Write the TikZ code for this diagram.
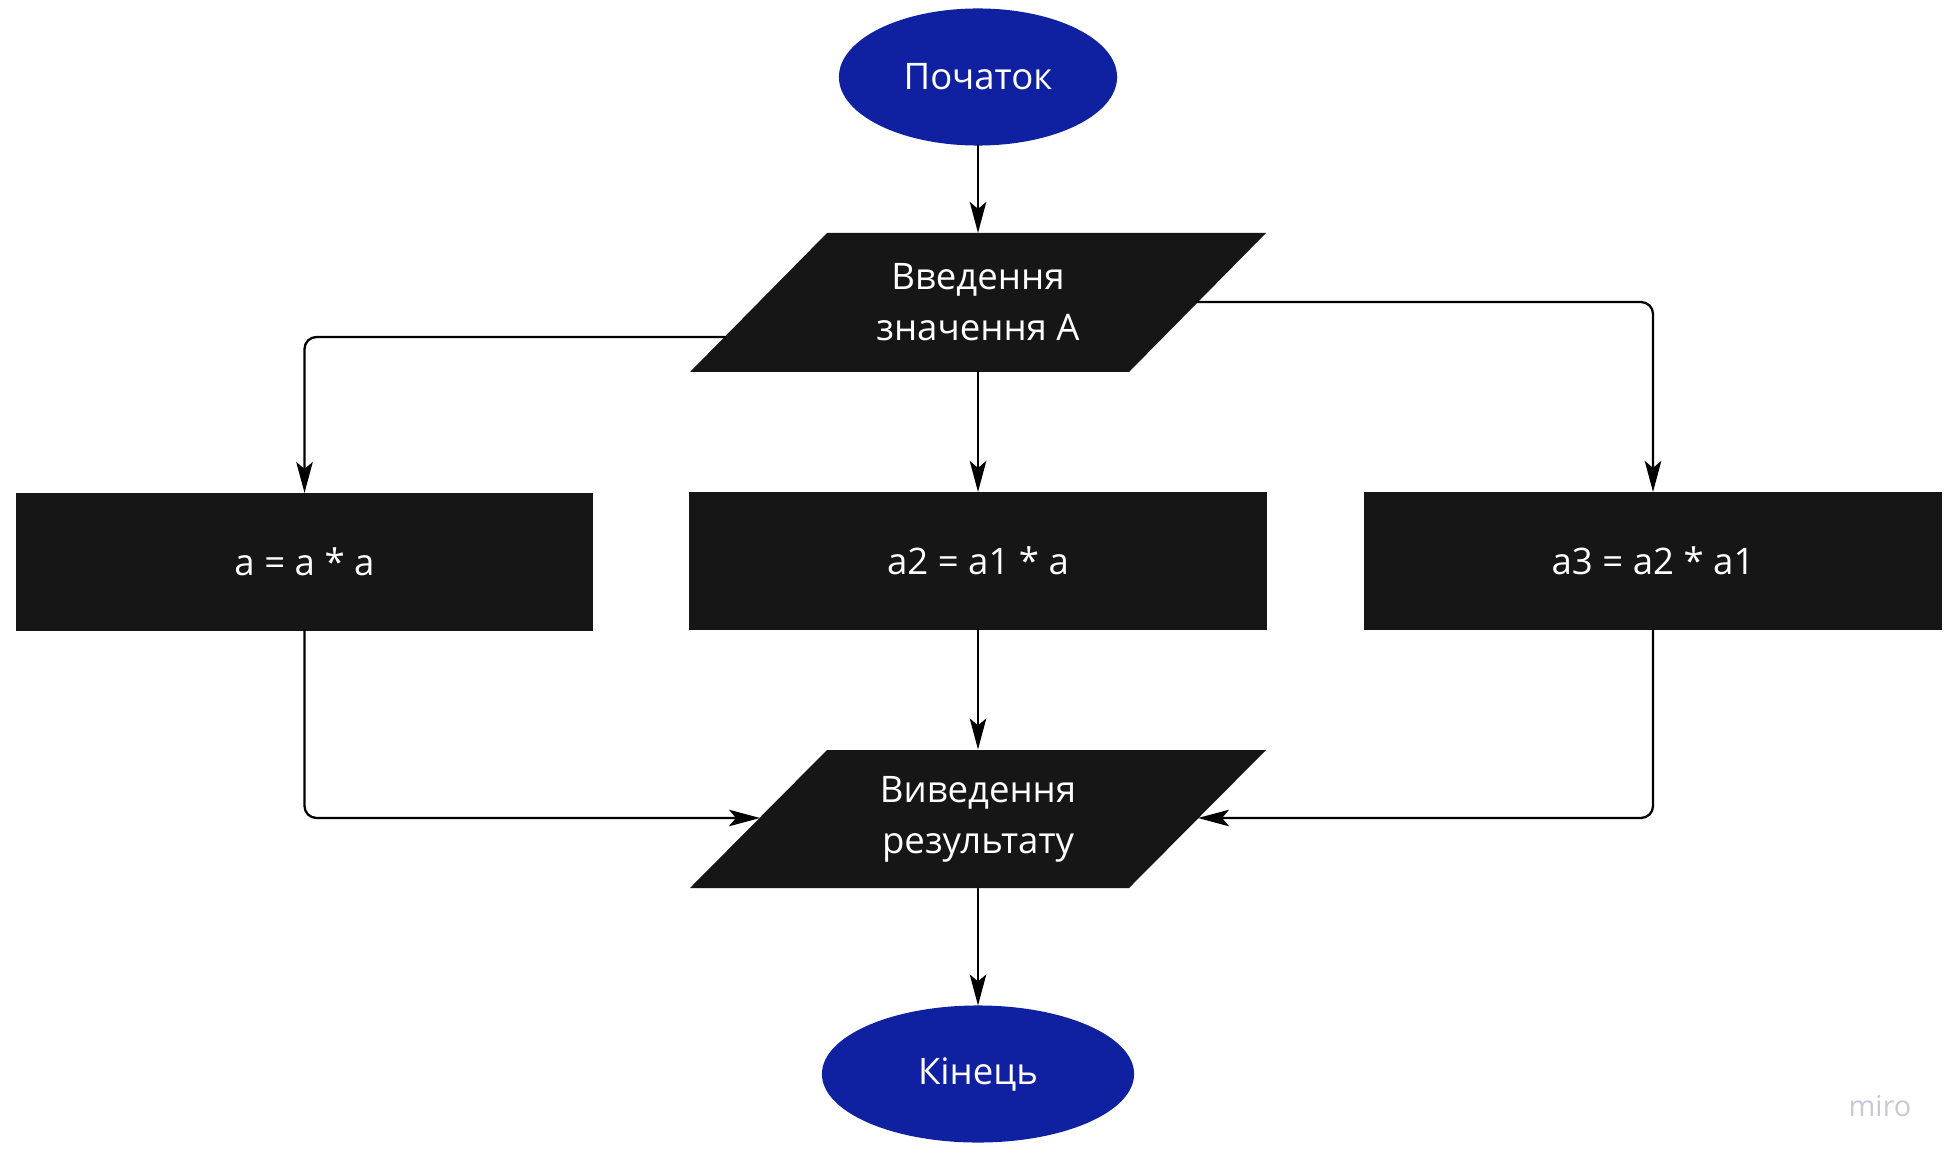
\documentclass[tikz,border=0pt]{standalone}
\usepackage{fontspec}
\setmainfont{Open Sans}
\usetikzlibrary{arrows.meta}
\usetikzlibrary{shapes}
\usetikzlibrary{backgrounds}

\definecolor{termblue}{RGB}{15,33,160}
\definecolor{blockgray}{RGB}{22,22,22}
\definecolor{miroclr}{RGB}{200,200,215}

\begin{document}
\begin{tikzpicture}[x=0.01cm, y=-0.01cm, line cap=round, line join=round,
  >={Stealth[length=0.31cm, width=0.165cm, inset=0.07cm]},
  every node/.style={font=\fontsize{10.4}{14.5}\selectfont, text=white, align=center, outer sep=0pt},
  term/.style={ellipse, fill=termblue, minimum height=1.37cm},
  iotext/.style={rectangle, minimum width=3.02cm, minimum height=1.39cm},
  calc/.style={rectangle, fill=blockgray, minimum width=5.77cm, minimum height=1.38cm},
  link/.style={draw=black, line width=0.65pt, rounded corners=0.12cm}]

\useasboundingbox (0,0) rectangle (1946,1155);

% terminals
\node[term, minimum width=2.78cm] (start) at (978,77) {Початок};
\node[term, minimum width=3.12cm] (stop) at (978,1074) {Кінець};

% input / output
\node[iotext] (input) at (978,302.5) {Введення\\значення А};
\node[iotext] (output) at (978,819) {Виведення\\результату};

\begin{scope}[on background layer]
\fill[blockgray] (827,233) -- (1266,233) -- (1129,372) -- (690,372) -- cycle;
\fill[blockgray] (827,750) -- (1266,750) -- (1129,888) -- (690,888) -- cycle;
\end{scope}

\coordinate (inL) at (725,337);
\coordinate (inR) at (1197,302);
\coordinate (outL) at (760,818);
\coordinate (outR) at (1198,818);

% the three blocks
\node[calc] (sq) at (304.5,562) {a = a * a};
\node[calc] (cube) at (978,561) {a2 = a1 * a};
\node[calc] (six) at (1653,561) {a3 = a2 * a1};

% connectors
\draw[link, ->] (start) -- (input);
\draw[link, ->] (input) -- (cube);
\draw[link, ->] (inL) -| (sq.north);
\draw[link, ->] (inR) -| (six.north);

\draw[link, ->] (cube) -- (output);
\draw[link, ->] (sq.south) |- (outL);
\draw[link, ->] (six.south) |- (outR);
\draw[link, ->] (output) -- (stop);

\node[text=miroclr, font=\fontsize{8.2}{9}\selectfont] (miro) at (1880,1106) {miro};
\end{tikzpicture}
\end{document}
